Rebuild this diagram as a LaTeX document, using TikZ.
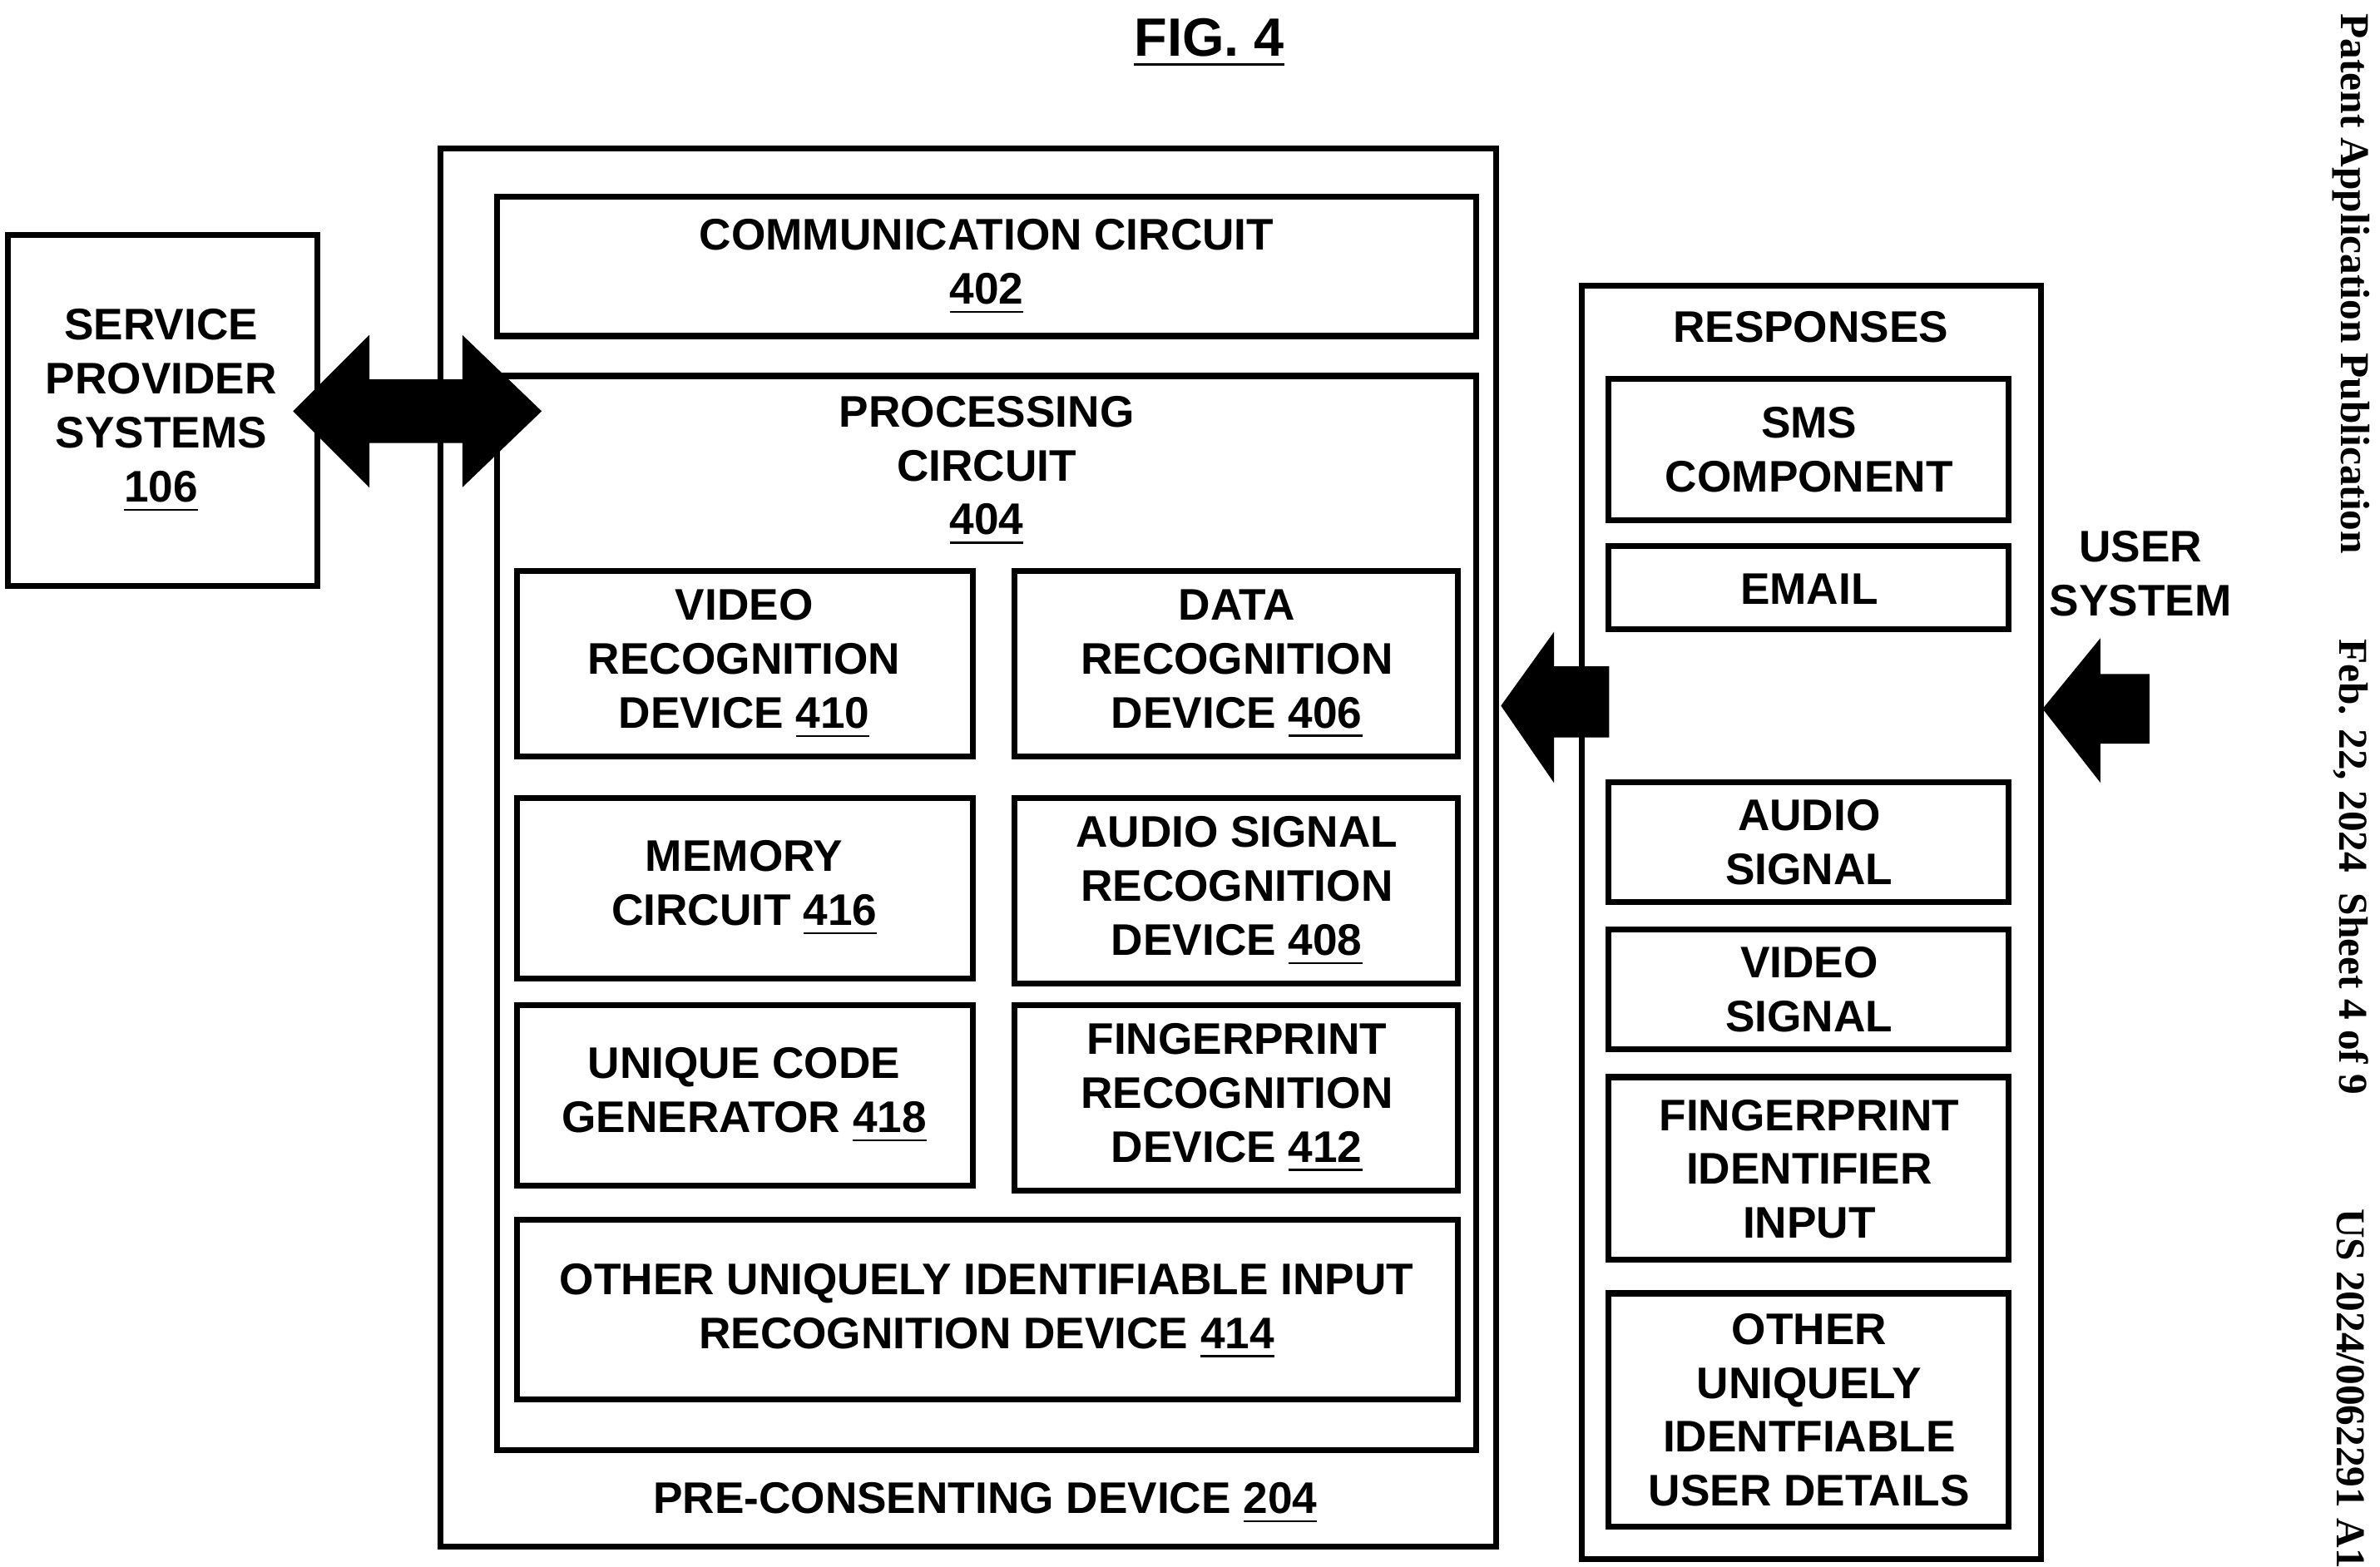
\documentclass[tikz,border=0pt]{standalone}
\usepackage{fontspec}
\setmainfont{Liberation Sans}
\newfontfamily\serifside{Liberation Serif}
\begin{document}
\begin{tikzpicture}[x=0.01cm,y=-0.01cm,
 box/.style={draw,line width=1.1pt},
 lbl/.style={font=\fontsize{8.2}{10}\selectfont\bfseries,align=center,inner sep=0pt},
 blk/.style={fill=black,draw=black,line join=miter}]
\useasboundingbox (0,0) rectangle (1551,1021);
\node[lbl,font=\fontsize{10}{12}\selectfont\bfseries] (fig) at (788,28) {\underline{FIG. 4}};
% service provider
\draw[box] (5,153) rectangle (207,382);
\node[lbl] (sp) at (105,268) {SERVICE\\PROVIDER\\SYSTEMS\\\underline{106}};
% outer device
\draw[box] (287,97) rectangle (975,1008);
\node[lbl] (pcd) at (642,980) {PRE-CONSENTING DEVICE \underline{204}};
\draw[box] (324,128) rectangle (962,219);
\node[lbl] (cc) at (643,174) {COMMUNICATION CIRCUIT\\\underline{402}};
\draw[box] (324,245) rectangle (962,945);
\node[lbl] (pc) at (643,307) {PROCESSING\\CIRCUIT\\\underline{404}};
\draw[box] (337,372) rectangle (634,493);
\node[lbl] (vr) at (485,433) {VIDEO\\RECOGNITION\\DEVICE \underline{410}};
\draw[box] (661,372) rectangle (950,493);
\node[lbl] (dr) at (806,433) {DATA\\RECOGNITION\\DEVICE \underline{406}};
\draw[box] (337,520) rectangle (634,638);
\node[lbl] (mc) at (485,579) {MEMORY\\CIRCUIT \underline{416}};
\draw[box] (661,520) rectangle (950,641);
\node[lbl] (ar) at (806,581) {AUDIO SIGNAL\\RECOGNITION\\DEVICE \underline{408}};
\draw[box] (337,655) rectangle (634,773);
\node[lbl] (uc) at (485,714) {UNIQUE CODE\\GENERATOR \underline{418}};
\draw[box] (661,655) rectangle (950,776);
\node[lbl] (fr) at (806,716) {FINGERPRINT\\RECOGNITION\\DEVICE \underline{412}};
\draw[box] (337,795) rectangle (950,912);
\node[lbl] (ot) at (643,855) {OTHER UNIQUELY IDENTIFIABLE INPUT\\RECOGNITION DEVICE \underline{414}};
% responses
\draw[box] (1031,186) rectangle (1330,1016);
\node[lbl] (resp) at (1180,213) {RESPONSES};
\draw[box] (1048,247) rectangle (1309,339);
\node[lbl] (sms) at (1179,293) {SMS\\COMPONENT};
\draw[box] (1048,356) rectangle (1309,410);
\node[lbl] (em) at (1179,384) {EMAIL};
\draw[box] (1048,510) rectangle (1309,588);
\node[lbl] (as) at (1179,549) {AUDIO\\SIGNAL};
\draw[box] (1048,606) rectangle (1309,684);
\node[lbl] (vs) at (1179,645) {VIDEO\\SIGNAL};
\draw[box] (1048,702) rectangle (1309,821);
\node[lbl] (fi) at (1179,762) {FINGERPRINT\\IDENTIFIER\\INPUT};
\draw[box] (1048,843) rectangle (1309,995);
\node[lbl] (ou) at (1179,919) {OTHER\\UNIQUELY\\IDENTFIABLE\\USER DETAILS};
\node[lbl] (us) at (1395,374) {USER\\SYSTEM};
% block arrows
\draw[blk] (192,268) -- (240,220) -- (240,248) -- (302,248) -- (302,220) -- (352,268)
 -- (302,316) -- (302,288) -- (240,288) -- (240,316) -- cycle;
\draw[blk] (979,460) -- (1012,414) -- (1012,435) -- (1048,435) -- (1048,480) -- (1012,480) -- (1012,508) -- cycle;
\draw[blk] (1332,462) -- (1368,418) -- (1368,440) -- (1400,440) -- (1400,484) -- (1368,484) -- (1368,508) -- cycle;
% side header
\begin{scope}[every node/.style={rotate=-90,font=\serifside\fontsize{7.6}{9}\selectfont\bfseries,inner sep=0pt}]
\node (h1) at (1532,185) {Patent Application Publication};
\node (h2) at (1532,565) {Feb. 22, 2024\ \ Sheet 4 of 9};
\node (h3) at (1532,905) {US 2024/0062291 A1};
\end{scope}
\end{tikzpicture}
\end{document}
